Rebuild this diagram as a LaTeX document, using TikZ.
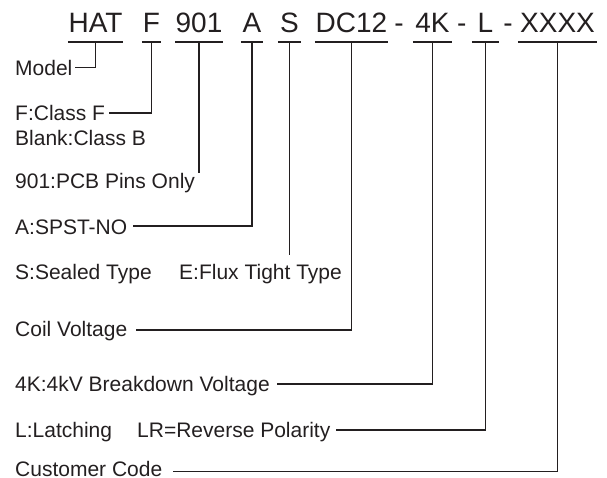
\documentclass[tikz,border=0pt]{standalone}
\usepackage{fontspec}
\setmainfont{Liberation Sans}
\definecolor{ink}{HTML}{231F20}
\begin{document}
\begin{tikzpicture}[x=1pt,y=-1pt,
  code/.style={anchor=base,inner sep=0pt,font=\fontsize{28}{30}\selectfont,text=ink},
  lab/.style={anchor=base west,inner sep=0pt,font=\fontsize{21}{23}\selectfont,text=ink},
  ln/.style={draw=ink,line width=1.1pt}]
\useasboundingbox (0,0) rectangle (607,478);
\coordinate (ul) at (0,42);
% top code parts
\node[code,minimum width=55pt] (HAT) at (95.5,33) {HAT};
\node[code,minimum width=19pt] (F) at (151.5,33) {F};
\node[code,minimum width=46pt] (N901) at (199,33) {901};
\node[code,minimum width=22pt] (A) at (252,33) {A};
\node[code,minimum width=23pt] (S) at (289.5,33) {S};
\node[code,minimum width=73pt] (DC) at (351.5,33) {DC12};
\node[code,minimum width=39pt] (K) at (432.5,33) {4K};
\node[code,minimum width=27pt] (L) at (485.5,33) {L};
\node[code,minimum width=79pt] (X) at (557.5,33) {XXXX};
\node[code] (d1) at (399,33) {-};
\node[code] (d2) at (461.7,33) {-};
\node[code] (d3) at (508,33) {-};
\foreach \n in {HAT,F,N901,A,S,DC,K,L,X}
  \draw[ln] (\n.west |- ul) -- (\n.east |- ul);
% labels
\node[lab] (Model) at (15,75.5) {Model};
\node[lab] (FC) at (15,121) {F:Class F};
\node[lab] (BL) at (15,146) {Blank:Class B};
\node[lab] (P901) at (15,189) {901:PCB Pins Only};
\node[lab] (ASP) at (15,234) {A:SPST-NO};
\node[lab] (SS) at (15,279.5) {S:Sealed Type};
\node[lab] (EF) at (179,279.5) {E:Flux Tight Type};
\node[lab] (CV) at (15,336) {Coil Voltage};
\node[lab] (BV) at (15,391) {4K:4kV Breakdown Voltage};
\node[lab] (LL) at (15,437) {L:Latching};
\node[lab] (LR) at (137,437) {LR=Reverse Polarity};
\node[lab] (CC) at (15,476) {Customer Code};
% connector ends
\coordinate (eModel) at (75,67.7);
\coordinate (eF) at (109,113);
\coordinate (e901) at (199,173);
\coordinate (eA) at (133,226);
\coordinate (eS) at (289.5,255);
\coordinate (eCV) at (136,330);
\coordinate (eBV) at (277,384);
\coordinate (eLR) at (336,430);
\coordinate (eCC) at (173,471.5);
% connectors
\draw[ln] (HAT.base |- ul) |- (eModel);
\draw[ln] (F.base |- ul) |- (eF);
\draw[ln] (N901.base |- ul) -- (e901);
\draw[ln] (A.base |- ul) |- (eA);
\draw[ln] (S.base |- ul) -- (eS);
\draw[ln] (DC.base |- ul) |- (eCV);
\draw[ln] (K.base |- ul) |- (eBV);
\draw[ln] (L.base |- ul) |- (eLR);
\draw[ln] (X.base |- ul) |- (eCC);
\end{tikzpicture}
\end{document}
